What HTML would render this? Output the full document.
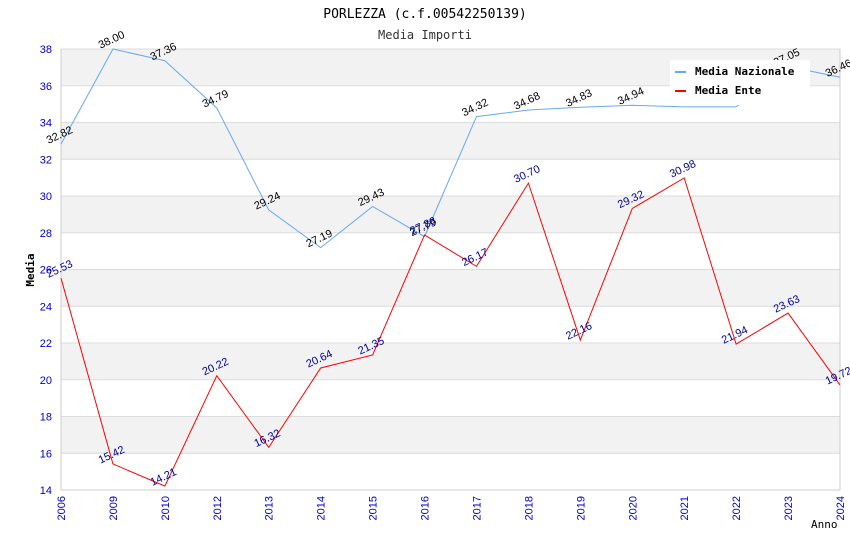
<!DOCTYPE html>
<html><head><meta charset="utf-8"><style>
body{margin:0;background:#fff;}
svg text{font-family:"Liberation Sans",sans-serif;}
svg text.mono{font-family:"DejaVu Sans Mono","Liberation Mono",monospace;}
</style></head><body>
<svg id="c" width="850" height="550" xmlns="http://www.w3.org/2000/svg"></svg>
<script>
const categories=["2006","2009","2010","2012","2013","2014","2015","2016","2017","2018","2019","2020","2021","2022","2023","2024"];
const nazionale=[32.82,38.00,37.36,34.79,29.24,27.19,29.43,27.79,34.32,34.68,34.83,34.94,34.85,34.85,37.05,36.46];
const ente=[25.53,15.42,14.21,20.22,16.32,20.64,21.35,27.88,26.17,30.70,22.16,29.32,30.98,21.94,23.63,19.72];
const yTicks=[14,16,18,20,22,24,26,28,30,32,34,36,38];
const showNazLabel=[1,1,1,1,1,1,1,1,1,1,1,1,0,0,1,1];
const NS="http://www.w3.org/2000/svg";
const svg=document.getElementById('c');
const L=61,R=840,T=49,B=490,ymin=14,ymax=38;
const x=i=>L+i*(R-L)/(categories.length-1);
const y=v=>B-(v-ymin)/(ymax-ymin)*(B-T);
function el(t,a,p){const e=document.createElementNS(NS,t);for(const k in a)e.setAttribute(k,a[k]);(p||svg).appendChild(e);return e;}
for(let i=0;i<yTicks.length-1;i++){
 const r=el('rect',{x:L,y:y(yTicks[i+1]),width:R-L,height:y(yTicks[i])-y(yTicks[i+1]),fill:(i%2==1)?'#f2f2f2':'#fff'});
 
 
}
yTicks.forEach(v=>{
 const g=el('line',{x1:L,x2:R,y1:y(v),y2:y(v),stroke:'#dcdcdc','stroke-width':1});
 
 
 const t=el('text',{x:L-9,y:y(v)+4,'text-anchor':'end','font-size':11,fill:'#0000cc'});t.textContent=v;
 
 
});
el('line',{x1:L,x2:L,y1:T,y2:B,stroke:'#ccc'});
el('line',{x1:L,x2:R,y1:B,y2:B,stroke:'#ccc'});
el('line',{x1:R,x2:R,y1:T,y2:B,stroke:'#ccc'});
categories.forEach((c,i)=>{
 const t=el('text',{x:0,y:0,'text-anchor':'end','font-size':11,fill:'#0000cc',transform:`translate(${x(i)+4},${B+6}) rotate(-90)`});t.textContent=c;
 
 
});
function series(data,color,lblColor,name,show){
 const p=el('polyline',{points:data.map((v,i)=>x(i)+','+y(v)).join(' '),fill:'none',stroke:color,'stroke-width':1});
 
 
 data.forEach((v,i)=>{
  if(show&&!show[i])return;
  const t=el('text',{x:0,y:0,'text-anchor':'middle','font-size':11,fill:lblColor,transform:`translate(${x(i)},${y(v)-6}) rotate(-25)`});t.textContent=v.toFixed(2);
  
  
 });
}
series(nazionale,'#66aaee','#000','media-nazionale',showNazLabel);
series(ente,'#ff0000','#000099','media-ente');
const lg=el('rect',{x:670,y:60,width:140,height:45,fill:'#fff'});


[['Media Nazionale','#66aaee',71],['Media Ente','#ff0000',90]].forEach(d=>{
 el('rect',{x:675,y:d[2],width:11,height:2,fill:d[1]});
 const t=el('text',{x:695,y:d[2]+4,'font-size':11,'font-weight':'bold',fill:'#000',class:'mono'});t.textContent=d[0];
 
 
});
let t=el('text',{x:425,y:18,'text-anchor':'middle','font-size':13,fill:'#000',class:'mono'});t.textContent='PORLEZZA (c.f.00542250139)';


t=el('text',{x:425,y:39,'text-anchor':'middle','font-size':12,fill:'#333',class:'mono'});t.textContent='Media Importi';


t=el('text',{x:0,y:0,'text-anchor':'middle','font-size':11,'font-weight':'bold',fill:'#000',class:'mono',transform:'translate(34,270) rotate(-90)'});t.textContent='Media';


t=el('text',{x:811,y:528,'font-size':11,fill:'#000',class:'mono'});t.textContent='Anno';


</script>
</body></html>
